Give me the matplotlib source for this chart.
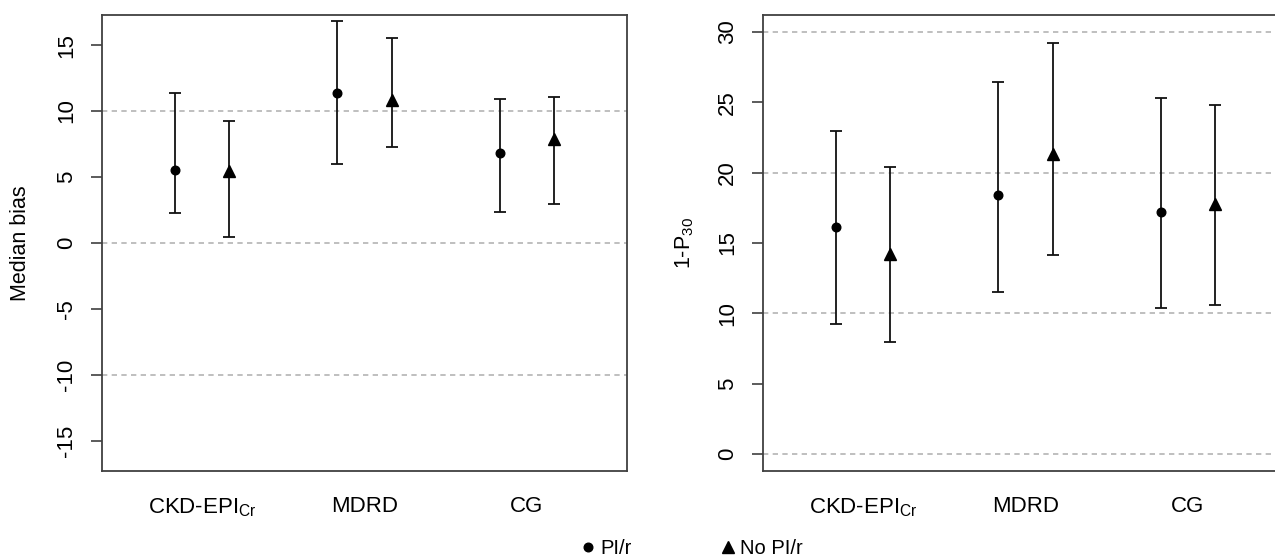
import matplotlib
matplotlib.use("Agg")
import matplotlib.pyplot as plt
from matplotlib.lines import Line2D
import numpy as np

plt.rcParams['font.family'] = ['Liberation Sans', 'DejaVu Sans']
plt.rcParams['mathtext.fontset'] = 'custom'
plt.rcParams['mathtext.rm'] = 'Liberation Sans'
plt.rcParams['mathtext.it'] = 'Liberation Sans:italic'

# ---- data ----
categories = ["CKD-EPI$_{\\mathregular{Cr}}$", "MDRD", "CG"]
series_names = ["PI/r", "No PI/r"]

bias_pir = [5.55, 11.39, 6.85]
bias_pir_lo = [2.24, 5.98, 2.37]
bias_pir_hi = [11.37, 16.82, 10.95]
bias_nopir = [5.42, 10.84, 7.92]
bias_nopir_lo = [0.49, 7.30, 2.99]
bias_nopir_hi = [9.25, 15.57, 11.10]

p30_pir = [16.11, 18.38, 17.22]
p30_pir_lo = [9.22, 11.49, 10.35]
p30_pir_hi = [22.98, 26.44, 25.28]
p30_nopir = [14.24, 21.29, 17.75]
p30_nopir_lo = [7.95, 14.14, 10.61]
p30_nopir_hi = [20.38, 29.19, 24.77]

bias_ticks = [-15, -10, -5, 0, 5, 10, 15]
bias_grid = [-10, 0, 10]
p30_ticks = [0, 5, 10, 15, 20, 25, 30]
p30_grid = [0, 10, 20, 30]

W, H = 1275, 558
fig = plt.figure(figsize=(W / 100, H / 100), dpi=100)

ax_w = 525 / W
ax_b = 1 - 471 / H
ax_h = (471 - 15) / H
ax1 = fig.add_axes([102 / W, ax_b, ax_w, ax_h])
ax2 = fig.add_axes([763 / W, ax_b, ax_w, ax_h])

box_col = '#404040'
grid_col = '#b4b4b4'
off = 1 / 6
x = np.arange(1, 4)


def draw(ax, v1, lo1, hi1, v2, lo2, hi2, ticks, grid, ylim, ylabel, labx):
    for g in grid:
        ax.axhline(g, color=grid_col, lw=1.2, ls=(0, (3.2, 2.6)), zorder=1)
    for xs, v, lo, hi, mk, ms in [(x - off, v1, lo1, hi1, 'o', 6.2),
                                   (x + off, v2, lo2, hi2, '^', 8)]:
        v = np.array(v); lo = np.array(lo); hi = np.array(hi)
        ax.errorbar(xs, v, yerr=[v - lo, hi - v], fmt=mk, ms=ms, color='black',
                    ecolor='#111111', elinewidth=1.3, capsize=4.5, capthick=1.3,
                    zorder=3)
    ax.set_xlim(0.38, 3.62)
    ax.set_ylim(*ylim)
    ax.set_yticks(ticks)
    ax.set_yticklabels([str(t) for t in ticks], rotation=90, va='center')
    ax.set_xticks(x)
    ax.set_xticklabels(categories, fontsize=16)
    ax.tick_params(axis='x', length=0, pad=18)
    ax.tick_params(axis='y', length=8, width=1.2, color=box_col, labelsize=16, pad=10)
    for s in ax.spines.values():
        s.set_color(box_col)
        s.set_linewidth(1.3)
    ax.set_ylabel(ylabel, fontsize=15.5)
    ax.yaxis.set_label_coords(labx, 0.5)
    ax.yaxis.label.set_va('center')


draw(ax1, bias_pir, bias_pir_lo, bias_pir_hi, bias_nopir, bias_nopir_lo, bias_nopir_hi,
     bias_ticks, bias_grid, (-17.28, 17.28), "Median bias", (21 - 102) / 525)
draw(ax2, p30_pir, p30_pir_lo, p30_pir_hi, p30_nopir, p30_nopir_lo, p30_nopir_hi,
     p30_ticks, p30_grid, (-1.2, 31.2), "1-P$_{\\mathregular{30}}$", (685 - 763) / 525)

handles = [Line2D([], [], ls='none', marker='o', ms=6.2, color='black'),
           Line2D([], [], ls='none', marker='^', ms=8, color='black')]
fig.legend(handles, series_names, loc='center left',
           bbox_to_anchor=(580 / W, 1 - 549 / H), ncol=2, frameon=False,
           fontsize=14.5, handlelength=0.8, handletextpad=0.2, columnspacing=4.4,
           borderpad=0, borderaxespad=0)

fig.savefig("out.png", dpi=100)
